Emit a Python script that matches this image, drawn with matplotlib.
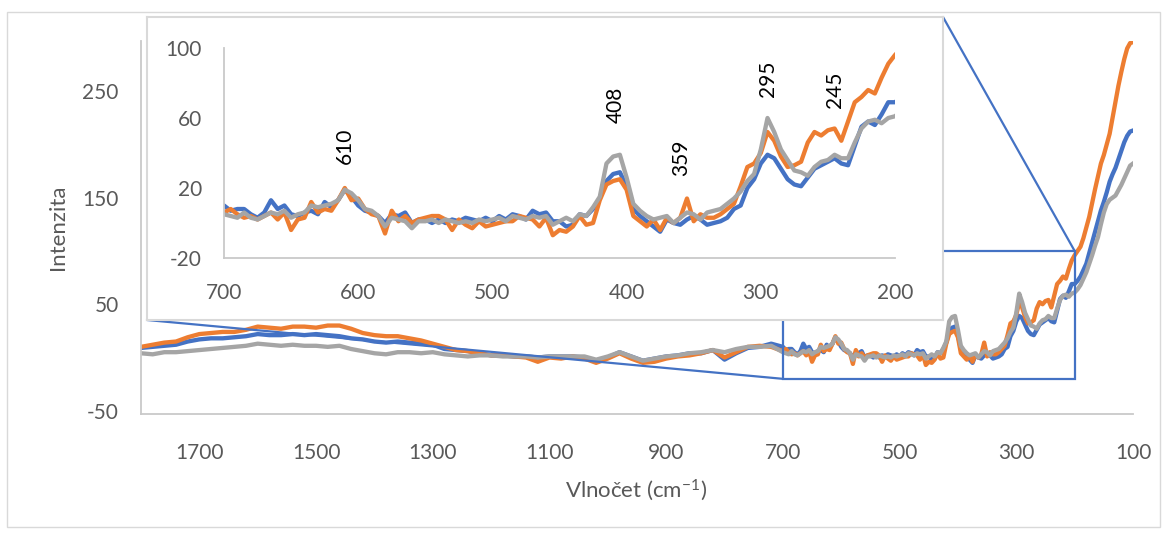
import numpy as np
import matplotlib
matplotlib.use("Agg")
import matplotlib.pyplot as plt
from matplotlib.patches import Rectangle, ConnectionPatch

plt.rcParams['font.family'] = ['Lato', 'DejaVu Sans']
plt.rcParams['mathtext.fontset'] = 'custom'
plt.rcParams['mathtext.rm'] = 'Lato'
plt.rcParams['mathtext.default'] = 'regular'
plt.rcParams['axes.unicode_minus'] = False

# wavenumber grids (cm-1): coarse outside the zoom, finer inside
x_far = np.arange(1800, 719, -20)
x_zoom = np.arange(700, 199, -5)
x_low = np.arange(195, 99, -5)

blue_far = [9, 10, 11, 12, 15, 17, 18, 18, 19, 20,
            22, 21, 21, 22, 21, 22, 21, 20, 18, 17,
            15, 14, 15, 14, 13, 12, 8, 7, 6, 4,
            2, 2, 1, 1, 0, 1, 1, 1, 0, -3,
            0, 5, 1, -3, -1, 1, 2, 4, 4, 7,
            -2, 4, 9, 10, 13]
orange_far = [10, 12, 14, 15, 19, 22, 23, 24, 24, 26,
              29, 28, 27, 29, 29, 28, 30, 30, 27, 23,
              21, 20, 20, 18, 16, 13, 10, 7, 6, 4,
              2, 2, 1, 0, -4, 0, -1, 1, -1, -5,
              -1, 4, -1, -5, -4, -1, 1, 2, 4, 7,
              0, 5, 10, 11, 10]
grey_far = [4, 3, 5, 5, 6, 7, 8, 9, 10, 11,
            13, 12, 11, 12, 11, 11, 10, 11, 8, 6,
            4, 3, 5, 5, 4, 5, 3, 2, 1, 2,
            2, 1, 1, 1, 0, 1, 1, 1, 1, -2,
            1, 5, 1, -3, -1, 1, 2, 4, 5, 7,
            5, 8, 10, 10, 11]

blue_zoom = [10, 7, 8, 8, 5, 3, 6, 13, 8, 10,
             5, 4, 6, 7, 5, 12, 9, 13, 19, 15,
             10, 7, 6, 4, 0, 5, 4, 6, 0, 2,
             2, 0, 2, 0, 2, 1, 3, 2, 1, 3,
             1, 4, 2, 5, 4, 2, 7, 5, 6, 1,
             1, -2, -1, 5, 4, 8, 14, 24, 28, 29,
             21, 8, 4, 1, -2, -5, 2, 0, -1, 2,
             4, 2, -1, 0, 1, 3, 8, 10, 20, 25,
             34, 39, 37, 31, 25, 22, 21, 26, 31, 33,
             35, 37, 34, 33, 44, 55, 58, 56, 62, 69,
             69]
orange_zoom = [6, 8, 5, 3, 4, 2, 4, 6, 2, 6,
               -4, 2, 3, 12, 6, 8, 7, 13, 20, 13,
               14, 8, 5, 4, -6, 7, 1, 4, 0, 2,
               3, 4, 4, 2, -4, 2, -1, -3, 1, -2,
               -1, 0, 1, 1, 4, 3, 2, -2, 3, -7,
               -4, -5, -2, 4, -1, 0, 13, 22, 24, 25,
               19, 4, 1, -2, 2, -4, 3, 0, 3, 14,
               1, 5, 3, 3, 5, 8, 11, 21, 32, 34,
               40, 52, 47, 38, 32, 33, 35, 46, 52, 50,
               53, 54, 47, 58, 69, 72, 76, 74, 83, 91,
               96]
grey_zoom = [5, 4, 3, 6, 3, 2, 4, 6, 5, 7,
             3, 5, 6, 10, 9, 10, 11, 13, 19, 17,
             13, 8, 7, 4, -2, 3, 2, 1, -3, 1,
             1, 2, 0, 2, 1, 0, 1, 0, 2, 1,
             2, 3, 1, 4, 3, 2, 4, 3, 4, -1,
             1, 3, 1, 5, 4, 9, 15, 34, 38, 39,
             26, 11, 7, 4, 2, 3, 4, 0, 3, 6,
             5, 2, 6, 7, 8, 11, 14, 18, 24, 28,
             42, 60, 52, 42, 36, 30, 29, 27, 32, 35,
             36, 39, 37, 37, 46, 54, 58, 59, 57, 60,
             61]

blue_low = [72, 76, 82, 88, 98, 108, 118, 128, 138, 146,
            155, 165, 172, 178, 186, 194, 202, 208, 212, 213]
orange_low = [100, 104, 112, 122, 132, 145, 158, 170, 182, 190,
              200, 210, 225, 240, 255, 268, 280, 290, 295, 296]
grey_low = [64, 68, 74, 80, 88, 96, 105, 113, 125, 136,
            144, 148, 150, 152, 157, 162, 168, 174, 180, 182]

peaks = [610, 408, 359, 295, 245]
peak_text_y = [34, 57, 27, 72, 66]

x_ticks = [1700, 1500, 1300, 1100, 900, 700, 500, 300, 100]
y_ticks = [-50, 50, 150, 250]
x_ticks_in = [700, 600, 500, 400, 300, 200]
y_ticks_in = [-20, 20, 60, 100]

BLUE = '#4472C4'
ORANGE = '#ED7D31'
GREY = '#A5A5A5'
AXIS = '#C9C9C9'
BORDER = '#D9D9D9'
TXT = '#595959'
FS = 15
LW = 3.1

wn = np.concatenate([x_far, x_zoom, x_low])
series = [(np.array(blue_far + blue_zoom + blue_low), BLUE),
          (np.array(orange_far + orange_zoom + orange_low), ORANGE),
          (np.array(grey_far + grey_zoom + grey_low), GREY)]

W, H = 1168, 533


def box(x0, y0, x1, y1):
    return [x0 / W, 1 - y1 / H, (x1 - x0) / W, (y1 - y0) / H]


fig = plt.figure(figsize=(W / 100, H / 100), dpi=100)
fig.add_artist(Rectangle((7 / W, 1 - 527 / H), 1153 / W, 515 / H,
                         transform=fig.transFigure, fill=False,
                         ec=BORDER, lw=1))

# main chart
ax = fig.add_axes(box(141, 41, 1133, 414), zorder=0)
for y, c in series:
    ax.plot(wn, y, color=c, lw=LW, solid_joinstyle='round')
ax.set_xlim(1800, 100)
ax.set_ylim(-53, 297)
ax.set_xticks(x_ticks)
ax.set_yticks(y_ticks)
for s in ['top', 'right']:
    ax.spines[s].set_visible(False)
for s in ['left', 'bottom']:
    ax.spines[s].set_color(AXIS)
    ax.spines[s].set_linewidth(1.3)
ax.tick_params(axis='both', length=0, labelsize=FS, labelcolor=TXT)
ax.tick_params(axis='y', pad=16)
ax.tick_params(axis='x', pad=21)
ax.set_ylabel('Intenzita', fontsize=FS + 1, color=TXT, va='center')
ax.yaxis.set_label_coords((58 - 141) / 992, 0.5)
ax.set_xlabel('Vlnočet (cm$^{-1}$)', fontsize=FS + 1, color=TXT, va='center')
ax.xaxis.set_label_coords((636 - 141) / 992, (414 - 490) / 373)

# zoom box on the main chart
ax.add_patch(Rectangle((200, -20), 500, 120, fill=False, ec=BLUE, lw=1.6,
                       zorder=5))

# inset frame
frame = fig.add_axes(box(147, 17, 943, 320), zorder=2)
frame.set_xticks([])
frame.set_yticks([])
frame.set_facecolor('white')
for s in frame.spines.values():
    s.set_color(BORDER)
    s.set_linewidth(1.5)

for xa, xb in [((0, 0), (700, -20)), ((1, 1), (200, 100))]:
    cp = ConnectionPatch(xyA=xa, coordsA=frame.transAxes, xyB=xb,
                         coordsB=ax.transData, color=BLUE, lw=1.6, zorder=1)
    fig.add_artist(cp)

# inset chart
axi = fig.add_axes(box(224, 48, 895, 258), zorder=3)
axi.patch.set_alpha(0)
for y, c in series:
    axi.plot(wn, y, color=c, lw=LW, solid_joinstyle='round')
axi.set_xlim(700, 200)
axi.set_ylim(-20, 100)
axi.set_xticks(x_ticks_in)
axi.set_yticks(y_ticks_in)
for s in ['top', 'right']:
    axi.spines[s].set_visible(False)
for s in ['left', 'bottom']:
    axi.spines[s].set_color(AXIS)
    axi.spines[s].set_linewidth(1.3)
axi.tick_params(axis='both', length=0, labelsize=FS, labelcolor=TXT)
axi.tick_params(axis='y', pad=16)
axi.tick_params(axis='x', pad=18)

for p, ty in zip(peaks, peak_text_y):
    axi.text(p, ty, str(p), rotation=90, ha='center', va='bottom',
             fontsize=FS, color='black')

fig.savefig('out.png', dpi=100)
